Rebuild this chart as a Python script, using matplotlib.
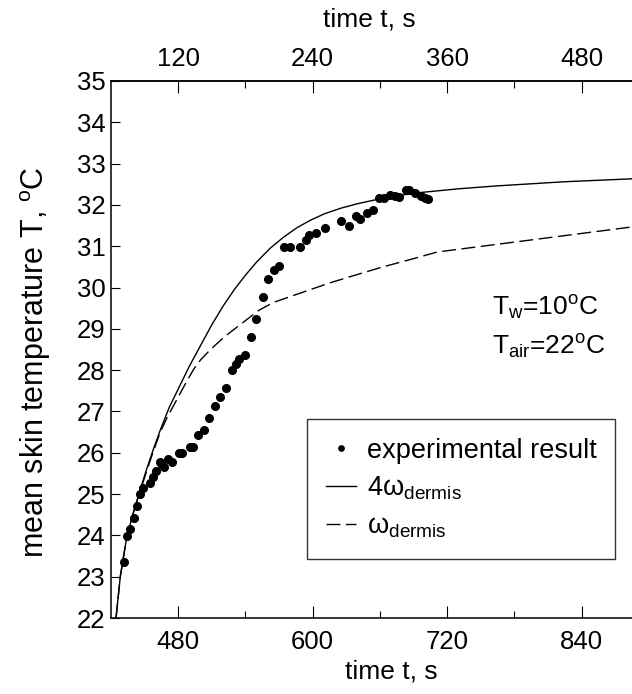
import numpy as np
import matplotlib
matplotlib.use("Agg")
import matplotlib.pyplot as plt
import matplotlib.transforms as mtransforms

plt.rcParams['font.family'] = ['Liberation Sans', 'DejaVu Sans']
plt.rcParams['mathtext.fontset'] = 'custom'
plt.rcParams['mathtext.rm'] = 'Liberation Sans'
plt.rcParams['mathtext.it'] = 'Liberation Sans'
plt.rcParams['mathtext.bf'] = 'Liberation Sans:bold'

# ---------- data ----------
exp_t = [431.2, 434.2, 437.2, 440.1, 443.2, 446.1, 448.5, 454.4, 457.4, 460.1,
         463.3, 465.5, 467.5, 471.3, 474.4, 480.3, 483.3, 490.1, 492.8, 497.2,
         502.6, 507.1, 512.4, 516.9, 522.8, 527.9, 531.5, 534.4, 539.8, 545.1,
         549.6, 555.2, 559.7, 565.0, 570.1, 574.0, 579.9, 588.2, 594.2, 597.1,
         602.9, 611.2, 625.3, 632.3, 638.5, 642.4, 648.4, 653.7, 658.7, 663.8,
         668.5, 673.6, 677.2, 683.2, 685.5, 691.5, 696.5, 700.4, 702.4]
exp_T = [23.35, 23.99, 24.15, 24.41, 24.71, 25.00, 25.14, 25.28, 25.42, 25.57,
         25.77, 25.71, 25.65, 25.86, 25.78, 25.99, 26.00, 26.13, 26.13, 26.42,
         26.56, 26.85, 27.13, 27.35, 27.56, 28.00, 28.14, 28.28, 28.37, 28.80,
         29.23, 29.78, 30.21, 30.43, 30.51, 30.99, 30.99, 30.99, 31.14, 31.27,
         31.31, 31.45, 31.60, 31.50, 31.74, 31.66, 31.80, 31.88, 32.16, 32.16,
         32.23, 32.22, 32.19, 32.35, 32.36, 32.30, 32.22, 32.16, 32.14]

# model, 4 x dermis perfusion
m4_t = [424.5, 428.3, 434.0, 440.0, 446.0, 452.0, 458.0, 464.0, 472.0, 481.0,
        490.0, 500.0, 510.0, 520.0, 530.0, 540.0, 550.0, 562.0, 574.0, 586.0,
        598.0, 610.0, 625.0, 640.0, 657.0, 675.0, 696.0, 730.0, 764.0, 824.0,
        900.0]
m4_T = [22.00, 23.00, 23.95, 24.55, 25.10, 25.62, 26.10, 26.55, 27.10, 27.60,
        28.10, 28.60, 29.10, 29.55, 29.95, 30.30, 30.62, 30.95, 31.22, 31.45,
        31.63, 31.78, 31.92, 32.03, 32.13, 32.22, 32.30, 32.39, 32.46, 32.56,
        32.65]

# model, dermis perfusion
m1_t = [424.5, 428.3, 434.0, 440.0, 446.0, 452.0, 458.0, 464.0, 470.0, 476.0,
        482.0, 488.0, 494.0, 500.0, 507.0, 514.0, 521.0, 528.0, 540.0, 552.0,
        565.0, 582.0, 600.0, 615.0, 633.0, 660.0, 690.0, 711.0, 800.0, 900.0]
m1_T = [22.00, 23.00, 23.95, 24.55, 25.07, 25.57, 26.05, 26.50, 26.85, 27.15,
        27.45, 27.75, 28.03, 28.25, 28.45, 28.63, 28.80, 28.95, 29.20, 29.45,
        29.64, 29.80, 29.97, 30.11, 30.26, 30.48, 30.70, 30.86, 31.17, 31.52]

fs_tick = 18.5
fs_lab = 19
fs_ylab = 22
fs_leg = 19.5

fig = plt.figure(figsize=(6.32, 6.94), dpi=100)
ax = fig.add_axes([0.1756, 0.1095, 0.8513, 0.7738])

ax.plot(m4_t, m4_T, color='black', lw=1.0, label=r'4$\mathrm{\omega_{dermis}}$')
ax.plot(m1_t, m1_T, color='black', lw=1.0, dashes=(10, 4),
        label=r'$\mathrm{\omega_{dermis}}$')
ax.plot(exp_t, exp_T, 'o', color='black', ms=5.5, label='experimental result')

ax.set_xlim(420, 900)
ax.set_ylim(22, 35)
ax.set_xticks([480, 600, 720, 840])
ax.set_xticks([540, 660, 780], minor=True)
ax.set_yticks(range(22, 36))
ax.tick_params(axis='x', which='major', direction='in', length=8.4, width=0.8,
               pad=8.6, labelsize=fs_tick)
ax.tick_params(axis='x', which='minor', direction='in', length=5, width=0.8)
ax.tick_params(axis='y', direction='in', length=6.5, width=0.8, pad=4,
               labelsize=fs_tick)
for s in ax.spines.values():
    s.set_linewidth(1.1)

ax.set_ylabel(r'mean skin temperature T, $^{\mathrm{o}}$C', fontsize=fs_ylab)
ylab_tr = mtransforms.blended_transform_factory(fig.transFigure, ax.transAxes)
ax.yaxis.set_label_coords(53 / 632, 0.477, transform=ylab_tr)

top = ax.secondary_xaxis('top', functions=(lambda x: x - 360, lambda x: x + 360))
top.set_xticks([120, 240, 360, 480])
top.set_xticks([180, 300, 420], minor=True)
top.tick_params(axis='x', which='major', direction='in', length=8.4, width=0.8,
                pad=7, labelsize=fs_tick)
top.tick_params(axis='x', which='minor', direction='in', length=5, width=0.8)
top.spines['top'].set_linewidth(1.1)

# axis titles sit roughly over the middle of the (partly cropped) axes
fig.text(391 / 632, (694 - 678) / 694, 'time t, s', fontsize=fs_lab,
         ha='center', va='baseline')
fig.text(369 / 632, 1 - 20 / 694, 'time t, s', fontsize=fs_lab,
         ha='center', va='center')

fig.text(492 / 632, (694 - 316) / 694, r'T$_{\mathrm{w}}$=10$^{\mathrm{o}}$C',
         fontsize=fs_lab, va='baseline')
fig.text(492 / 632, (694 - 355) / 694, r'T$_{\mathrm{air}}$=22$^{\mathrm{o}}$C',
         fontsize=fs_lab, va='baseline')

h, l = ax.get_legend_handles_labels()
leg = ax.legend([h[2], h[0], h[1]], [l[2], l[0], l[1]], loc='upper left',
                bbox_to_anchor=(307 / 632, 1 - 419 / 694),
                bbox_transform=fig.transFigure,
                fontsize=fs_leg, frameon=True, fancybox=False, handlelength=1.1,
                labelspacing=0.4, borderpad=0.7, handletextpad=0.4,
                borderaxespad=0, markerscale=0.7)
leg.get_frame().set_edgecolor('black')
leg.get_frame().set_linewidth(1.0)

fig.savefig('out.png', dpi=100)
